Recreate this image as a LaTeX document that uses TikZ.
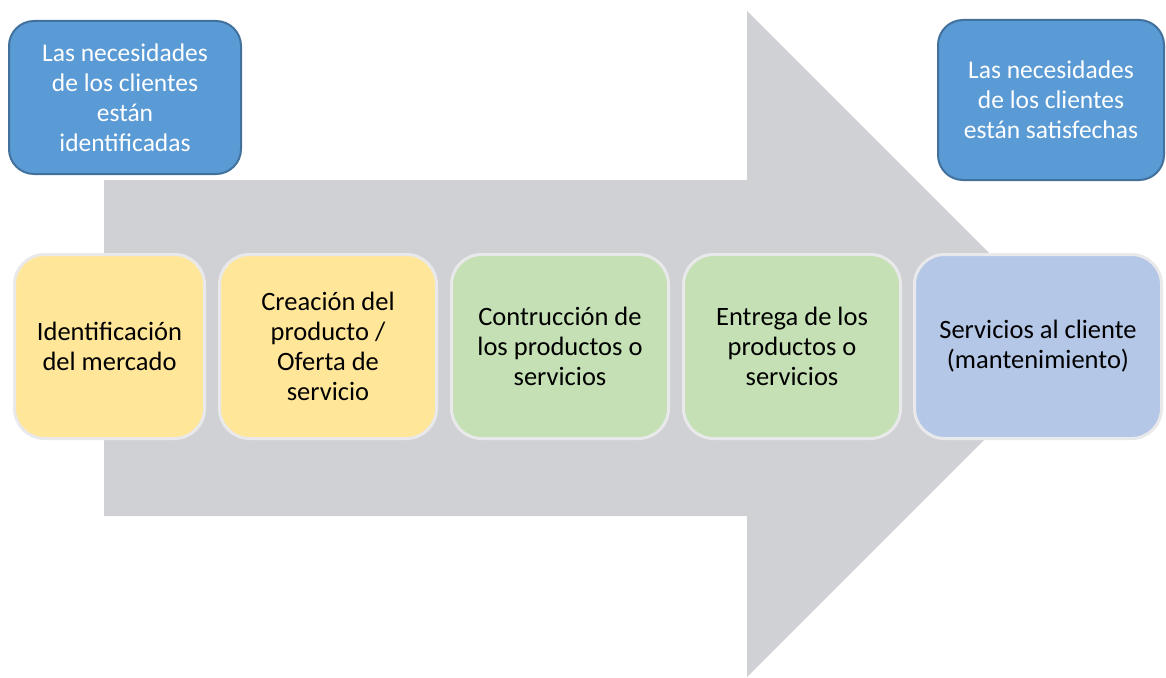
\documentclass[tikz,border=0pt]{standalone}
\usepackage{fontspec}
\setmainfont{Carlito}
\usepackage{tikz}
\usetikzlibrary{positioning}
\definecolor{arrowgray}{HTML}{D0D1D5}
\definecolor{needblue}{HTML}{5B9BD5}
\definecolor{neededge}{HTML}{41719C}
\definecolor{stepyellow}{HTML}{FFE699}
\definecolor{stepgreen}{HTML}{C5E0B4}
\definecolor{stepblue}{HTML}{B4C7E7}
\definecolor{stepedge}{HTML}{E9E9EB}

\begin{document}
\begin{tikzpicture}[x=1pt, y=-1pt, node distance={12pt},
  need/.style = {draw=neededge, line width=2pt, fill=needblue, rounded corners=25pt, text=white, align=center, font=\fontsize{25.5}{30}\selectfont},
  stepbox/.style = {draw=stepedge, line width=3pt, rounded corners=30pt, minimum width=217pt, minimum height=184pt, align=center, font=\fontsize{26.5}{30}\selectfont}]
\useasboundingbox (0,0) rectangle (1166,677);
% big arrow behind the steps
\fill[arrowgray] (104,180) -- (747,180) -- (747,11) -- (1080,344) -- (747,677) -- (747,516) -- (104,516) -- cycle;
\node[need, minimum width=232pt, minimum height=153pt] (n1) at (125,97.5) {Las necesidades\\de los clientes\\están\\identificadas};
\node[need, minimum width=226pt, minimum height=160pt] (n2) at (1051,100) {Las necesidades\\de los clientes\\están satisfechas};
\node[stepbox, fill=stepyellow, minimum width=190pt] (1) at (109.5,346.5) {Identificación\\del mercado};
\node[stepbox, fill=stepyellow] (2) [right=of 1] {Creación del\\producto /\\Oferta de\\servicio};
\node[stepbox, fill=stepgreen] (3) [right=of 2] {Contrucción de\\los productos o\\servicios};
\node[stepbox, fill=stepgreen] (4) [right=of 3] {Entrega de los\\productos o\\servicios};
\node[stepbox, fill=stepblue, minimum width=247pt] (5) [right=11pt of 4] {Servicios al cliente\\(mantenimiento)};
\end{tikzpicture}
\end{document}
